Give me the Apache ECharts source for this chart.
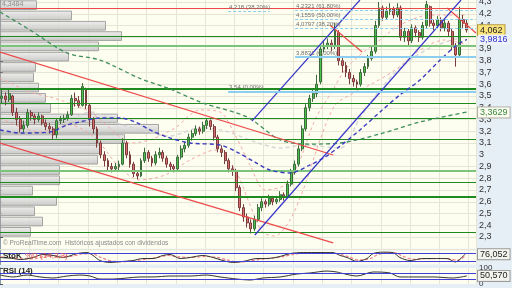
<!DOCTYPE html>
<html><head><meta charset="utf-8">
<script src="https://cdn.jsdelivr.net/npm/echarts@6/dist/echarts.min.js"></script>
<style>html,body{margin:0;padding:0;background:#e6eef6}#c{width:512px;height:288px}</style>
</head><body><div id="c"></div>
<script>
// ---- data ----
// candles: [open, close, low, high]
const ohlc = [
[3.48,3.50,3.44,3.55],[3.50,3.47,3.42,3.53],[3.47,3.52,3.45,3.56],[3.50,3.36,3.33,3.51],[3.36,3.30,3.25,3.40],
[3.30,3.22,3.19,3.33],[3.22,3.25,3.19,3.29],[3.25,3.36,3.23,3.39],[3.36,3.33,3.29,3.38],[3.33,3.30,3.26,3.35],
[3.30,3.33,3.28,3.36],[3.33,3.27,3.25,3.34],[3.27,3.24,3.21,3.30],[3.24,3.22,3.18,3.27],[3.22,3.17,3.13,3.24],
[3.17,3.29,3.14,3.31],[3.29,3.30,3.26,3.33],[3.30,3.31,3.27,3.34],[3.31,3.34,3.29,3.37],[3.34,3.48,3.33,3.51],
[3.48,3.46,3.41,3.53],[3.46,3.42,3.40,3.50],[3.42,3.58,3.41,3.61],[3.56,3.42,3.39,3.57],[3.42,3.30,3.24,3.44],
[3.30,3.22,3.18,3.32],[3.22,3.10,3.06,3.24],[3.10,3.00,2.97,3.12],[3.00,2.95,2.90,3.03],[2.95,2.90,2.86,2.97],
[2.90,2.88,2.85,2.93],[2.88,2.90,2.86,2.93],[2.90,2.92,2.87,2.95],[2.92,3.10,2.91,3.14],[3.10,3.00,2.97,3.12],
[3.00,2.92,2.89,3.03],[2.92,2.84,2.81,2.94],[2.84,2.82,2.79,2.87],[2.82,2.95,2.81,2.97],[2.95,3.02,2.93,3.06],
[3.02,2.97,2.94,3.04],[2.97,2.93,2.90,2.99],[2.93,3.00,2.91,3.03],[3.00,3.02,2.97,3.06],[3.02,2.97,2.94,3.04],
[2.97,2.92,2.89,2.99],[2.92,2.90,2.87,2.94],[2.90,2.88,2.85,2.92],[2.88,2.98,2.87,3.00],[2.98,3.05,2.96,3.08],
[3.05,3.08,3.02,3.11],[3.08,3.15,3.06,3.18],[3.15,3.18,3.12,3.21],[3.18,3.22,3.16,3.25],[3.22,3.20,3.17,3.24],
[3.20,3.25,3.18,3.28],[3.25,3.29,3.22,3.31],[3.29,3.24,3.21,3.30],[3.24,3.15,3.12,3.26],[3.15,3.05,3.02,3.17],
[3.05,3.02,2.98,3.08],[3.02,2.95,2.92,3.04],[2.95,2.88,2.85,2.97],[2.88,2.86,2.82,2.91],[2.86,2.72,2.69,2.88],
[2.72,2.55,2.52,2.74],[2.55,2.47,2.43,2.58],[2.47,2.42,2.38,2.50],[2.42,2.37,2.33,2.45],[2.37,2.45,2.35,2.48],
[2.45,2.55,2.43,2.58],[2.55,2.60,2.52,2.63],[2.60,2.58,2.55,2.62],[2.58,2.63,2.56,2.66],[2.63,2.60,2.57,2.65],
[2.60,2.62,2.58,2.65],[2.62,2.66,2.60,2.69],[2.66,2.64,2.61,2.68],[2.64,2.75,2.63,2.78],[2.75,2.85,2.73,2.88],
[2.85,2.92,2.83,2.95],[2.92,3.05,2.90,3.08],[3.05,3.22,3.03,3.25],[3.22,3.40,3.20,3.43],[3.40,3.48,3.37,3.51],
[3.48,3.52,3.45,3.56],[3.52,3.60,3.49,3.68],[3.62,3.90,3.60,3.93],[3.90,3.93,3.87,3.97],[3.93,3.95,3.90,3.99],
[3.95,3.92,3.88,3.98],[3.92,4.06,3.90,4.12],[4.04,3.80,3.76,4.06],[3.80,3.76,3.70,3.84],[3.76,3.70,3.66,3.79],
[3.70,3.65,3.60,3.73],[3.65,3.62,3.58,3.68],[3.62,3.60,3.55,3.64],[3.60,3.70,3.58,3.73],[3.70,3.75,3.67,3.78],
[3.75,3.82,3.73,3.85],[3.82,3.88,3.80,3.92],[3.88,4.10,3.86,4.14],[4.10,4.25,4.08,4.30],[4.25,4.17,4.14,4.27],
[4.17,4.22,4.15,4.26],[4.22,4.24,4.19,4.29],[4.24,4.19,4.16,4.26],[4.19,4.25,4.17,4.29],[4.25,4.00,3.97,4.27],
[4.00,4.05,3.96,4.08],[4.05,3.97,3.93,4.07],[3.97,4.08,3.95,4.11],[4.08,4.04,4.00,4.10],[4.04,4.00,3.96,4.06],
[4.00,4.10,3.98,4.13],[4.10,4.28,4.08,4.31],[4.26,4.12,4.09,4.27],[4.12,4.10,4.06,4.15],[4.10,4.15,4.08,4.18],
[4.15,4.08,4.05,4.17],[4.08,4.12,4.05,4.15],[4.12,4.05,4.01,4.14],[4.05,3.93,3.89,4.07],[3.93,3.85,3.75,3.95],
[3.85,4.15,3.84,4.26],[4.15,4.12,4.08,4.19],[4.12,4.062,4.04,4.15]
];
const slotCount = 130;
const days = Array.from({length: slotCount}, (_, i) => String(i + 1));

// volume-by-price bins, top (high price) to bottom
const volBins = [37,72,106,122,99,69,36,34,39,46,51,118,159,125,100,98,60,60,33,57,35,43,31];

// horizontal support / resistance levels
const greenLevels = [4.011, 3.934, 3.555, 3.440, 3.313, 3.134, 2.862, 2.768, 2.636, 2.343];
const thickLevels = [3.555, 2.636];
const softLevels = [3.934, 2.862];
const redTop = 4.25;

// fibonacci levels
const fibValues = [4.218, 4.2321, 4.1559, 4.0797, 3.83, 3.54];
const fibTexts = ['4,218 (38,20%)', '4,2321 (61,80%)', '4,1559 (50,00%)', '4,0797 (38,20%)', '3,8831 (0,00%)', '3,54 (0,00%)'];
const fibFrom = [62.3, 80.6, 80.6, 80.6, 80.6, 62.3];
const fibTo = [73.7, 130, 130, 130, 130, 130];

// trend lines [slot, price]
const redUpper = [[0, 3.874], [91, 2.998]];
const redLower = [[0, 3.10], [91, 2.25]];
const redShortA = [[90.1, 4.104], [98.9, 3.874]];
const redShortB = [[122.1, 4.249], [130, 4.036]];
const blueUpper = [[68.8, 3.287], [98.3, 4.317]];
const blueLower = [[69.6, 2.317], [125.9, 4.317]];

// moving averages / bands [slot, price]
const maGreen = [[0,4.215],[8.2,4.062],[18.3,3.866],[27.3,3.806],[38.2,3.65],[46.4,3.560],[55.4,3.440],[67.5,3.321],[76.5,3.126],[84.7,3.091],[92.9,3.100],[103.8,3.177],[114.7,3.279],[127.5,3.3629]];
const maBlue = [[0,3.211],[5.5,3.185],[13.7,3.194],[18.3,3.253],[21.8,3.279],[27.3,3.313],[32.8,3.313],[36.9,3.279],[41,3.211],[45.6,3.151],[51.9,3.100],[60.1,3.083],[64.7,3.023],[69.6,2.938],[73.7,2.870],[79.2,2.845],[84.7,2.913],[88.8,2.981],[92.9,3.074],[98.3,3.211],[103.8,3.364],[109.2,3.509],[114.7,3.636],[120.2,3.806],[124.8,3.934],[127.5,3.9816]];
const maGrey = [[16.4,3.228],[24.6,3.364],[32.8,3.262],[38.2,3.211],[46.4,3.160],[54.6,3.228],[61.5,3.202],[69.6,3.109],[76.5,3.057],[83.3,3.083],[92.9,3.057],[98.3,3.313],[103.8,3.551],[109.2,3.738],[117.4,3.909],[127.5,4.011]];
const pinkUpper = [[0,3.653],[8.2,3.534],[16.4,3.466],[24.6,3.364],[30,3.228],[35.5,3.1],[41,3.126],[47.8,3.228],[54.6,3.381],[60.1,3.364],[64.2,3.168],[68.3,2.913],[72.4,2.7],[77.8,2.743],[81.9,2.955],[86,3.296],[90.9,3.551],[94.2,3.721],[98.3,3.849],[103.8,3.977],[109.2,4.104],[117.4,4.189],[127.5,4.189]];
const pinkLower = [[0,3.313],[10.9,3.194],[19.1,3.253],[25.9,3.143],[32.8,2.887],[38.2,2.785],[45.1,2.828],[51.9,2.955],[58.7,3.040],[64.2,2.870],[68.3,2.572],[71.6,2.343],[75.1,2.309],[79.2,2.445],[83.3,2.743],[87.4,3.126],[91.5,3.423],[95.6,3.509],[101,3.594],[107.9,3.721],[114.7,3.891],[121.5,3.977],[127.5,3.934]];

// stochastic and RSI [slot, value]
const stochK = [[0,50],[3.6,42],[5.5,34],[9,50],[11.7,74],[14.5,66],[17.2,50],[21,81],[23.8,89],[25.4,66],[27.3,26],[30,11],[33.6,19],[36.3,26],[39,42],[41.8,42],[44.5,66],[46.4,74],[49.2,42],[51.9,50],[55.4,66],[58.2,50],[60.9,26],[63.6,11],[66.4,19],[70.2,42],[72.9,42],[76.5,58],[79.2,81],[82.8,89],[87.4,89],[90.9,89],[92.9,66],[94.8,50],[97.5,19],[100.2,42],[101.9,81],[104.6,92],[107.3,89],[109.2,50],[112,26],[115.5,42],[118.3,42],[122.1,42],[124.3,15],[127,76.052]];
const stochD = [[0,55],[4,46],[7,38],[10,44],[13,64],[16,62],[19,58],[22,76],[25,80],[28,45],[31,20],[34,18],[37,24],[40,38],[43,50],[46,66],[49,55],[52,50],[56,58],[59,52],[62,32],[65,15],[68,22],[71,36],[74,44],[77,55],[80,75],[83,86],[88,88],[91,87],[93,74],[95,58],[98,30],[101,40],[103,70],[105,86],[108,86],[110,60],[113,36],[116,40],[119,42],[122,42],[125,28],[127,62]];
const rsi = [[0,56],[3.6,44],[7.4,56],[10.9,44],[14.5,37.5],[18.3,50],[21.8,56],[24.6,50],[27.3,31],[30.9,31],[34.7,37.5],[38.2,44],[41.8,44],[46.4,50],[51.9,50],[56.5,56],[60.1,44],[64.7,31],[68.3,25],[71.8,37.5],[76.5,44],[81.1,62.5],[84.7,69],[89.3,81],[92,75],[93,69],[97.5,50],[101.9,75],[106.5,69],[109.2,44],[113.9,44],[118.3,44],[123.7,37.5],[127.5,50.57]];
const stochLevels = [80, 20];
const rsiLevels = [70, 30];

// ---- chart ----
const fmt = (v, d) => v.toFixed(d).replace('.', ',');
const lastClose = ohlc[ohlc.length - 1][1];
const last = a => a[a.length - 1][1];
const FONT = 'Liberation Sans';

const chart = echarts.init(document.getElementById('c'), null, {renderer: 'canvas'});

const boxLabel = (text, color, bg, border) => ({
  show: true, position: 'end', distance: 2, formatter: text, color: color,
  backgroundColor: bg, borderColor: border, borderWidth: 1, padding: [1, 2, 0, 2],
  fontSize: 9, fontFamily: FONT
});
const hiddenLine = {color: 'rgba(0,0,0,0)', width: 0};

const lineSeries = (data, color, type, width, z, extra) => Object.assign({
  type: 'line', xAxisIndex: 1, yAxisIndex: 0, data: data, symbol: 'none', silent: true,
  lineStyle: {color: color, type: type, width: width}, z: z, animation: false
}, extra || {});

const option = {
  animation: false,
  backgroundColor: '#e6eef6',
  grid: [
    {left: 0, width: 476, top: -9.75, height: 258.5, show: true, backgroundColor: '#fdfdf0', borderWidth: 0, containLabel: false, outerBoundsMode: 'none'},
    {left: 0, width: 476, top: 0, height: 237, show: false, containLabel: false, outerBoundsMode: 'none'},
    {left: 0, width: 476, top: 250.5, height: 14, show: true, backgroundColor: '#fdfdf0', borderWidth: 0, containLabel: false, outerBoundsMode: 'none'},
    {left: 0, width: 476, top: 268, height: 16, show: true, backgroundColor: '#fdfdf0', borderWidth: 0, containLabel: false, outerBoundsMode: 'none'}
  ],
  xAxis: [
    {type: 'category', gridIndex: 0, data: days, boundaryGap: true,
     axisLine: {show: false}, axisTick: {show: false}, axisLabel: {show: false},
     splitLine: {show: true, interval: 7, lineStyle: {color: '#e6e6d6', width: 1}}},
    {type: 'value', gridIndex: 0, min: 0, max: slotCount, show: false, position: 'top'},
    {type: 'value', gridIndex: 1, min: 0, max: 476, show: false},
    {type: 'value', gridIndex: 2, min: 0, max: slotCount, interval: 8,
     axisLine: {show: false}, axisTick: {show: false}, axisLabel: {show: false},
     splitLine: {show: true, lineStyle: {color: '#e6e6d6'}}},
    {type: 'value', gridIndex: 3, min: 0, max: slotCount, interval: 8,
     axisLine: {show: false}, axisTick: {show: false}, axisLabel: {show: false},
     splitLine: {show: true, lineStyle: {color: '#e6e6d6'}}}
  ],
  yAxis: [
    {type: 'value', gridIndex: 0, position: 'right', min: 2.2, max: 4.4, interval: 0.1,
     axisLine: {show: true, lineStyle: {color: '#8a98a8'}},
     axisTick: {show: true, length: 3, lineStyle: {color: '#555'}},
     axisLabel: {show: true, fontSize: 9, color: '#333', fontFamily: FONT, margin: 3,
       showMinLabel: false, showMaxLabel: false,
       formatter: v => String(Math.round(v * 10) / 10).replace('.', ',')},
     splitLine: {show: true, lineStyle: {color: '#e6e6d6', width: 1}}},
    {type: 'category', gridIndex: 1, inverse: true, data: volBins.map((_, i) => i), show: false},
    {type: 'value', gridIndex: 2, position: 'right', min: -5, max: 105,
     axisLine: {show: true, lineStyle: {color: '#8a98a8'}}, axisTick: {show: false},
     axisLabel: {show: false}, splitLine: {show: false}},
    {type: 'value', gridIndex: 3, position: 'right', min: 0, max: 100, interval: 100,
     axisLine: {show: true, lineStyle: {color: '#8a98a8'}},
     axisTick: {show: true, length: 3, lineStyle: {color: '#555'}},
     axisLabel: {show: true, fontSize: 8, color: '#333', fontFamily: FONT, margin: 3},
     splitLine: {show: false}}
  ],
  series: [
    {type: 'bar', xAxisIndex: 2, yAxisIndex: 1, data: volBins, barCategoryGap: '6%', silent: true, z: 1,
     itemStyle: {color: new echarts.graphic.LinearGradient(0, 0, 0, 1, [{offset: 0, color: '#ededed'}, {offset: 1, color: '#c4c4c4'}]),
       borderColor: '#9c9c9c', borderWidth: 1, opacity: 0.9}},
    lineSeries(pinkUpper, '#f2a8a8', [3, 3], 1, 2, {smooth: 0.3}),
    lineSeries(pinkLower, '#f2a8a8', [3, 3], 1, 2, {smooth: 0.3}),
    lineSeries(maGrey, '#d6d6d6', [4, 3], 1.5, 2, {smooth: 0.3}),
    {type: 'candlestick', xAxisIndex: 0, yAxisIndex: 0, data: ohlc, barWidth: 2.4, z: 3, silent: true,
     itemStyle: {color: '#4cc04c', color0: '#d86c6c', borderColor: '#3d6b3d', borderColor0: '#7a3c3c', borderWidth: 1},
     markLine: {symbol: ['none', 'none'], silent: true, animation: false, z: 4,
       label: {show: false},
       data: greenLevels.map(v => ({yAxis: v, lineStyle: {
           color: softLevels.includes(v) ? '#7cc47c' : '#1f8a1f',
           width: thickLevels.includes(v) ? 2 : (softLevels.includes(v) ? 2 : 1.2), type: 'solid'}}))
         .concat([{yAxis: redTop, lineStyle: {color: '#ec4a4a', width: 1.2, type: 'solid'}},
                  {yAxis: lastClose, lineStyle: hiddenLine, label: boxLabel(fmt(lastClose, 3), '#222', '#fbe37c', '#b49a3a')}])}},
    lineSeries(maGreen, '#3f8f5a', [4, 3], 1.3, 4, {smooth: 0.3,
      markLine: {symbol: ['none', 'none'], silent: true, animation: false, label: {show: false},
        data: [{yAxis: last(maGreen), lineStyle: hiddenLine, label: boxLabel(fmt(last(maGreen), 4), '#3a8a3a', '#fbfbf2', '#b0b0a0')}]}}),
    lineSeries(maBlue, '#3b3bc0', [4, 3], 1.4, 4, {smooth: 0.3,
      markLine: {symbol: ['none', 'none'], silent: true, animation: false, label: {show: false},
        data: [{yAxis: last(maBlue), lineStyle: hiddenLine, label: boxLabel(fmt(last(maBlue), 4), '#2f2fc8', '#eef2fb', 'rgba(0,0,0,0)')}]}}),
    lineSeries(redUpper, '#ec4a4a', 'solid', 1.2, 4),
    lineSeries(redLower, '#ec4a4a', 'solid', 1.2, 4),
    lineSeries(redShortA, '#ec4a4a', 'solid', 1.2, 4),
    lineSeries(redShortB, '#ec4a4a', 'solid', 1.2, 4),
    lineSeries(blueLower, '#3535c8', 'solid', 1.2, 4),
    lineSeries(blueUpper, '#3535c8', 'solid', 1.2, 4, {
      markLine: {symbol: ['none', 'none'], silent: true, animation: false,
        data: fibValues.map((v, i) => [
          {coord: [fibFrom[i], v],
           lineStyle: {color: '#8ccdf0', width: i >= 4 ? 2 : 1, type: i >= 4 ? 'solid' : [3, 2]},
           label: {show: true, position: 'insideStartTop', formatter: fibTexts[i], fontSize: 6, color: '#707070', fontFamily: FONT, distance: 1}},
          {coord: [fibTo[i], v]}])}}),
    // stochastic
    {type: 'line', xAxisIndex: 3, yAxisIndex: 2, data: stochD, symbol: 'none', silent: true, smooth: 0.3,
     lineStyle: {color: '#f08080', type: [3, 2], width: 1.2}, z: 3,
     markLine: {symbol: ['none', 'none'], silent: true, animation: false, label: {show: false},
       data: stochLevels.map(v => ({yAxis: v, lineStyle: {color: '#4040d8', width: 1.2, type: 'solid'}}))}},
    {type: 'line', xAxisIndex: 3, yAxisIndex: 2, data: stochK, symbol: 'none', silent: true, smooth: 0.3,
     lineStyle: {color: '#333', width: 1}, z: 4,
     markLine: {symbol: ['none', 'none'], silent: true, animation: false, label: {show: false},
       data: [{yAxis: last(stochK), lineStyle: hiddenLine, label: boxLabel(fmt(last(stochK), 3), '#222', '#f4f4ee', '#9a9a9a')}]}},
    // RSI
    {type: 'line', xAxisIndex: 4, yAxisIndex: 3, data: rsi, symbol: 'none', silent: true, smooth: 0.3,
     lineStyle: {color: '#333', width: 1}, z: 4,
     markLine: {symbol: ['none', 'none'], silent: true, animation: false, label: {show: false},
       data: rsiLevels.map(v => ({yAxis: v, lineStyle: {color: '#4040d8', width: 1.2, type: 'solid'}}))
         .concat([{yAxis: last(rsi), lineStyle: hiddenLine, label: boxLabel(fmt(last(rsi), 3), '#222', '#f4f4ee', '#9a9a9a')}])}}
  ],
  graphic: [
    {type: 'text', left: 2, top: 1, z: 100, style: {text: '4,3484', fontSize: 7, fill: '#8c8c8c', fontFamily: FONT}},
    {type: 'text', left: 3, top: 239.5, z: 100, style: {text: '© ProRealTime.com  Históricos ajustados con dividendos', fontSize: 6.5, fill: '#8a8a8a', fontFamily: FONT}},
    {type: 'text', left: 3, top: 250, z: 100, style: {text: '{a|StoK} {b|%D (14,3,3)}', fontFamily: FONT,
      rich: {a: {fill: '#222', fontSize: 8, fontWeight: 'bold', fontFamily: FONT}, b: {fill: '#e05050', fontSize: 8, fontFamily: FONT}}}},
    {type: 'text', left: 3, top: 266.5, z: 100, style: {text: 'RSI (14)', fontSize: 8, fontWeight: 'bold', fill: '#222', fontFamily: FONT}}
  ]
};
chart.setOption(option);
</script>
</body></html>
